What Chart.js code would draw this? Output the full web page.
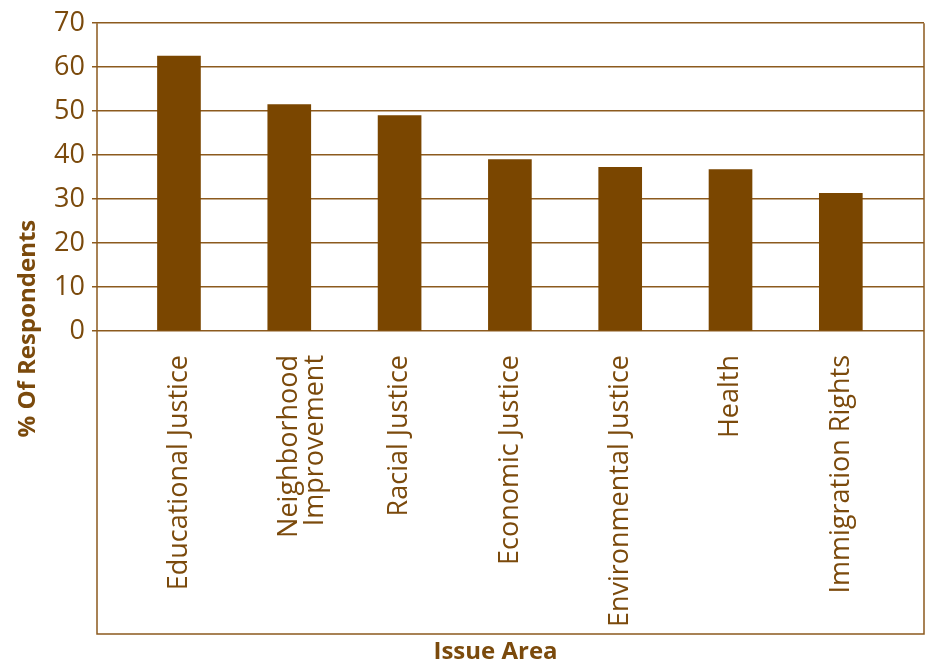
<!DOCTYPE html>
<html>
<head>
<meta charset="utf-8">
<script src="https://cdn.jsdelivr.net/npm/chart.js@4.4.1/dist/chart.umd.min.js"></script>
<style>
  html, body { margin: 0; padding: 0; background: #fff; }
  #wrap { width: 926px; height: 664px; }
</style>
</head>
<body>
<div id="wrap"><canvas id="issueChart"></canvas></div>
<script>
const issueAreas = [
    'Educational Justice',
    ['Neighborhood', 'Improvement'],
    'Racial Justice',
    'Economic Justice',
    'Environmental Justice',
    'Health',
    'Immigration Rights'
];
const percentRespondents = [62.5, 51.5, 49, 39, 37.2, 36.7, 31.3];
const yTicks = [0, 10, 20, 30, 40, 50, 60, 70];

const brown = '#7b4a0c';
const barBrown = '#7a4600';
const lineBrown = '#8c5a1e';
const titleFont = 'bold 24px "Open Sans"';

// draws the outer box that runs down around the category labels, plus both axis titles
const frameBox = {
    id: 'frameBox',
    afterDraw(chart) {
        const area = chart.chartArea;
        const x = chart.scales.x;
        const titleBlock = 30;
        const bottom = x.bottom - titleBlock;
        const ctx = chart.ctx;
        ctx.save();
        ctx.strokeStyle = lineBrown;
        ctx.lineWidth = 1.5;
        ctx.beginPath();
        ctx.moveTo(area.left, area.top);
        ctx.lineTo(area.left, bottom);
        ctx.lineTo(area.right, bottom);
        ctx.lineTo(area.right, area.top);
        ctx.stroke();

        ctx.fillStyle = brown;
        ctx.font = titleFont;
        ctx.textAlign = 'center';
        ctx.textBaseline = 'middle';
        // x title, sits a little left of the box centre in the original
        ctx.fillText('Issue Area', (area.left + area.right) / 2 - 15, bottom + 18);

        // y title, centred on the whole box
        ctx.translate(28, (area.top + bottom) / 2);
        ctx.rotate(-Math.PI / 2);
        ctx.fillText('% Of Respondents', 0, 0);
        ctx.restore();
    }
};

const points = percentRespondents.map((v, i) => ({ x: i, y: v }));

new Chart(document.getElementById('issueChart'), {
    type: 'bar',
    data: {
        datasets: [{
            data: points,
            backgroundColor: barBrown,
            barThickness: 43
        }]
    },
    options: {
        responsive: true,
        maintainAspectRatio: false,
        animation: false,
        layout: { padding: { top: 21, right: 2, bottom: 0, left: 0 } },
        plugins: {
            legend: { display: false },
            tooltip: { enabled: false }
        },
        scales: {
            x: {
                type: 'linear',
                offset: false,
                min: -0.743,
                max: 6.754,
                afterBuildTicks: scale => {
                    scale.ticks = issueAreas.map((_, i) => ({ value: i }));
                },
                afterFit: scale => { scale.height = 333; },
                grid: { display: false },
                border: { display: false },
                ticks: {
                    autoSkip: false,
                    minRotation: 90,
                    maxRotation: 90,
                    padding: 16,
                    color: brown,
                    font: { family: 'Open Sans', size: 27, lineHeight: 0.95 },
                    callback: v => issueAreas[v]
                }
            },
            y: {
                min: 0,
                max: 70,
                afterBuildTicks: scale => {
                    scale.ticks = yTicks.map(v => ({ value: v }));
                },
                afterFit: scale => { scale.width = 97; },
                grid: {
                    color: lineBrown,
                    lineWidth: 1.5,
                    tickLength: 5
                },
                border: { display: false },
                ticks: {
                    padding: 7,
                    color: brown,
                    font: { family: 'Open Sans', size: 27 }
                }
            }
        }
    },
    plugins: [frameBox]
});
</script>
</body>
</html>
